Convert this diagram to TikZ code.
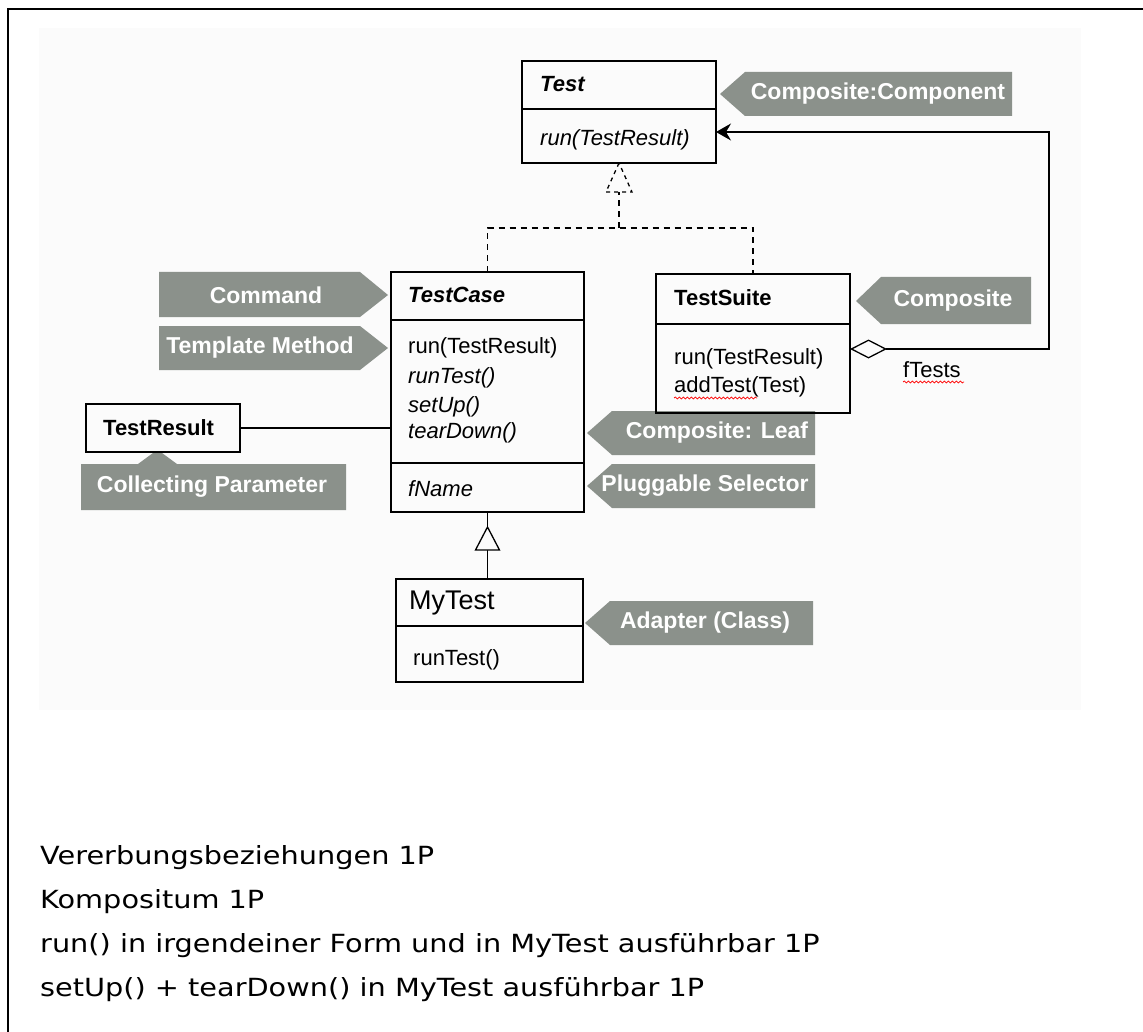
\documentclass[tikz,border=0pt]{standalone}
\usepackage{fontspec}
\setmainfont{Liberation Sans}
\newfontfamily\bottomfont[FakeStretch=1.15]{DejaVu Sans}
\usetikzlibrary{arrows.meta,decorations.pathmorphing}
\definecolor{flagc}{RGB}{139,145,139}
\definecolor{bgc}{RGB}{251,251,251}
\begin{document}
\begin{tikzpicture}[x=1pt,y=-1pt,
  box/.style={draw,line width=1.3pt,anchor=north west,inner sep=0pt,outer sep=0pt},
  txt/.style={anchor=west,inner sep=0pt,font=\fontsize{22}{24}\selectfont},
  txti/.style={anchor=west,inner sep=0pt,font=\itshape\fontsize{22}{24}\selectfont},
  txtb/.style={anchor=west,inner sep=0pt,font=\bfseries\fontsize{22}{24}\selectfont},
  txtbi/.style={anchor=west,inner sep=0pt,font=\bfseries\itshape\fontsize{22}{24}\selectfont},
  ftxt/.style={text=white,inner sep=0pt,font=\bfseries\fontsize{23}{24}\selectfont},
  flag/.style={fill=flagc},
  conn/.style={line width=1.3pt},
  divider/.style={line width=1.3pt},
  squig/.style={red,line width=0.7pt,decorate,decoration={snake,amplitude=1pt,segment length=4pt}},
  btxt/.style={anchor=base west,inner sep=0pt,font=\bottomfont\fontsize{25}{28}\selectfont},
]
\useasboundingbox (0,0) rectangle (1143,1032);
\fill[white] (0,0) rectangle (1143,1032);
\draw[line width=2.5pt] (8,1032) -- (8,9) -- (1143,9);
\fill[bgc] (39,28) rectangle (1081,710);

% ---------- flags ----------
\fill[flag] (720,94) -- (745,72) -- (1012,72) -- (1012,116) -- (745,116) -- cycle;
\node[ftxt] (fcc) at (878,94) {Composite:Component};
\fill[flag] (856,301) -- (881,277) -- (1031,277) -- (1031,324) -- (881,324) -- cycle;
\node[ftxt] (fcomp) at (953,301) {Composite};
\fill[flag] (159,272) -- (360,272) -- (388,295) -- (360,317) -- (159,317) -- cycle;
\node[ftxt] (fcmd) at (266,295) {Command};
\fill[flag] (159,326) -- (360,326) -- (388,348) -- (360,370) -- (159,370) -- cycle;
\node[ftxt] (ftm) at (260,348) {Template Method};
\fill[flag] (587,433) -- (612,411) -- (815,411) -- (815,455) -- (612,455) -- cycle;
\node[ftxt] (fleaf) at (717,433) {Composite: Leaf};
\fill[flag] (587,486) -- (612,464) -- (815,464) -- (815,508) -- (612,508) -- cycle;
\node[ftxt] (fps) at (705,486) {Pluggable Selector};
\fill[flag] (585,623) -- (610,601) -- (813,601) -- (813,645) -- (610,645) -- cycle;
\node[ftxt] (fad) at (705,623) {Adapter (Class)};
\fill[flag] (81,464) -- (138,464) -- (153,453) -- (162,453) -- (177,464) -- (346,464) -- (346,510) -- (81,510) -- cycle;
\node[ftxt] (fcp) at (212,487) {Collecting Parameter};

% ---------- classes ----------
\node[box,minimum width=194pt,minimum height=102pt] (test) at (522,61) {};
\draw[divider] (522,109) -- (716,109);
\node[txtbi] (testname) at (540,84) {Test};
\node[txti] (testrun) at (540,140) {run(TestResult)};

\node[box,minimum width=193pt,minimum height=240pt] (tc) at (391,272) {};
\draw[divider] (391,320) -- (584,320);
\draw[divider] (391,463) -- (584,463);
\node[txtbi] (tcname) at (408,295) {TestCase};
\node[txt]  (tcrun) at (408,348) {run(TestResult)};
\node[txti] (tcrt) at (408,378) {runTest()};
\node[txti] (tcsu) at (408,407) {setUp()};
\node[txti] (tctd) at (408,433) {tearDown()};
\node[txti] (tcfn) at (408,489) {fName};

\node[box,minimum width=194pt,minimum height=139pt] (ts) at (656,274) {};
\draw[divider] (656,324) -- (850,324);
\node[txtb] (tsname) at (674,298) {TestSuite};
\node[txt] (tsrun) at (674,359) {run(TestResult)};
\node[txt] (tsadd) at (674,387) {addTest(Test)};
\draw[squig] (674,398) -- (757,398);

\node[box,minimum width=154pt,minimum height=48pt] (tr) at (86,404) {};
\node[txtb] (trname) at (103,428) {TestResult};

\node[box,minimum width=187pt,minimum height=103pt] (mt) at (396,579) {};
\draw[divider] (396,626) -- (583,626);
\node[anchor=west,inner sep=0pt,font=\fontsize{27}{30}\selectfont] (mtname) at (409,603) {MyTest};
\node[txt] (mtrt) at (413,660) {runTest()};

% ---------- connectors ----------
% realization (dashed) TestCase/TestSuite -> Test
\draw[conn,dashed,dash pattern=on 6pt off 5pt] (tc.north) -- (tc.north |- 0,228) -- (ts.north |- 0,228) -- (ts.north);
\draw[conn,dashed,dash pattern=on 6pt off 5pt] (test.south |- 0,228) -- (test.south |- 0,192);
\draw[conn,dashed,dash pattern=on 4pt off 4pt] (test.south) -- ([xshift=-13pt]test.south |- 0,192) -- ([xshift=13pt]test.south |- 0,192) -- cycle;

% generalization MyTest -> TestCase
\draw[conn] (tc.south) -- (mt.north -| tc.south);
\coordinate (gtip) at ([yshift=-15pt]tc.south);
\draw[conn,fill=bgc] (gtip) -- ([xshift=-12pt,yshift=-38pt]tc.south) -- ([xshift=12pt,yshift=-38pt]tc.south) -- cycle;

% association TestResult -- TestCase
\draw[conn] (tr.east) -- (tr.east -| tc.west);

% aggregation TestSuite -> Test
\coordinate (aggstart) at (850,349);
\coordinate (aggcorner1) at (1049,349);
\coordinate (aggcorner2) at (1049,132);
\draw[conn,{Diamond[open,length=37pt,width=19pt]}-{Stealth[length=15pt,width=17pt,inset=5pt]}]
  (aggstart) -- (aggcorner1) -- (aggcorner2) -- (aggcorner2 -| test.east);
\node[txt] (ftests) at (903,370) {fTests};
\draw[squig] (903,382) -- (964,382);

% ---------- bottom text ----------
\node[btxt] (l1) at (40,864) {Vererbungsbeziehungen 1P};
\node[btxt] (l2) at (40,908) {Kompositum 1P};
\node[btxt] (l3) at (40,952) {run() in irgendeiner Form und in MyTest ausführbar 1P};
\node[btxt] (l4) at (40,996) {setUp() + tearDown() in MyTest ausführbar 1P};
\end{tikzpicture}
\end{document}
